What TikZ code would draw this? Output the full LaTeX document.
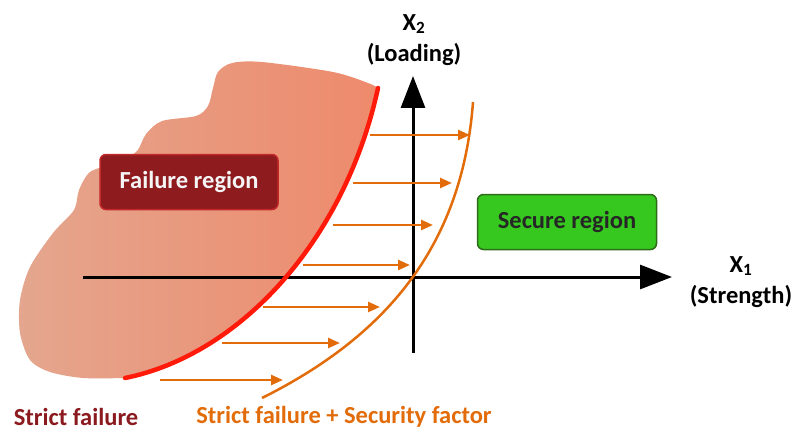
\documentclass[tikz,border=0pt]{standalone}
\usepackage{fontspec}
\setmainfont{Carlito}
\usetikzlibrary{arrows.meta,positioning}
\definecolor{failred}{HTML}{8E1B1E}
\definecolor{failedge}{HTML}{C0282A}
\definecolor{strictred}{HTML}{FF1A0A}
\definecolor{sforange}{HTML}{E36C0A}
\definecolor{secgreen}{HTML}{36C81E}
\definecolor{secedge}{HTML}{2E6B1A}
\definecolor{blobleft}{HTML}{E4A68E}
\definecolor{blobright}{HTML}{EE8A6C}
\definecolor{labelred}{HTML}{8B1A1F}
\begin{document}
\begin{tikzpicture}[x=1pt,y=-1pt,
    every node/.style={font=\fontsize{24.5}{28}\selectfont\bfseries},
    regionbox/.style={rounded corners=6pt, minimum height=55pt, line width=1.5pt, inner sep=2pt},
    failbox/.style={regionbox, fill=failred, draw=failedge, text=white!92!gray, minimum width=178pt},
    securebox/.style={regionbox, fill=secgreen, draw=secedge, text=black!85, minimum width=179pt},
    axis/.style={line width=3pt, -{Triangle[length=32pt,width=24pt]}},
    sfarrow/.style={sforange, line width=2.5pt, -{Triangle[length=12pt,width=10pt]}}]
        \useasboundingbox (0,0) rectangle (794,433);
        % Failure region
        \shade[left color=blobleft, right color=blobright]
            plot[smooth, tension=0.5] coordinates {(125,378) (83,378) (50,372) (30,360) (20,333) (20,300)
                (30,267) (53,233) (74,210) (79,190) (90,172) (112,164) (136,152) (146,134) (162,121)
                (196,116) (208,106) (213,88) (218,72) (232,63) (262,62) (333,72) (368,83) (378,88)}
            .. controls (345,240) and (240,355) .. (125,378) -- cycle;
        % Axes
        \coordinate (o) at (413,277);
        \coordinate (xstart) at (83,277);
        \coordinate (xend) at (672,277);
        \coordinate (ybot) at (413,353);
        \coordinate (ytop) at (413,76);
        \draw[axis] (xstart) -- (xend);
        \draw[axis] (ybot) -- (ytop);
        % Limit curves
        \coordinate (redtop) at (378,88);
        \coordinate (redbot) at (125,378);
        \coordinate (sftop) at (473,102);
        \coordinate (sfbot) at (262,398);
        \draw[strictred, line width=4.5pt, line cap=round] (redtop) .. controls (345,240) and (240,355) .. (redbot);
        \draw[sforange, line width=2.5pt] (sftop) .. controls (462,250) and (382,338) .. (sfbot);
        % Arrows
        \foreach \y/\xa/\xb in {135/370/470, 183/353/452, 225/333/433, 265/303/410,
                                307/263/380, 343/222/340, 380/160/283}
            \draw[sfarrow] (\xa,\y) -- (\xb,\y);
        % Nodes
        \node[failbox] (fail) at (189,182) {Failure region};
        \node[securebox] (secure) at (567,222) {Secure region};
        \node (xtwo) at (414,24) {X\textsubscript{2}};
        \node (loading) at (414,54) {(Loading)};
        \node (xone) at (741,266) {X\textsubscript{1}};
        \node (strength) at (741,296) {(Strength)};
        \node[text=labelred, inner sep=1pt] (strict) at (76,417) {Strict failure};
        \node[text=sforange, inner sep=1pt] (strictsf) at (344,417) {Strict failure + Security factor};
\end{tikzpicture}
\end{document}
